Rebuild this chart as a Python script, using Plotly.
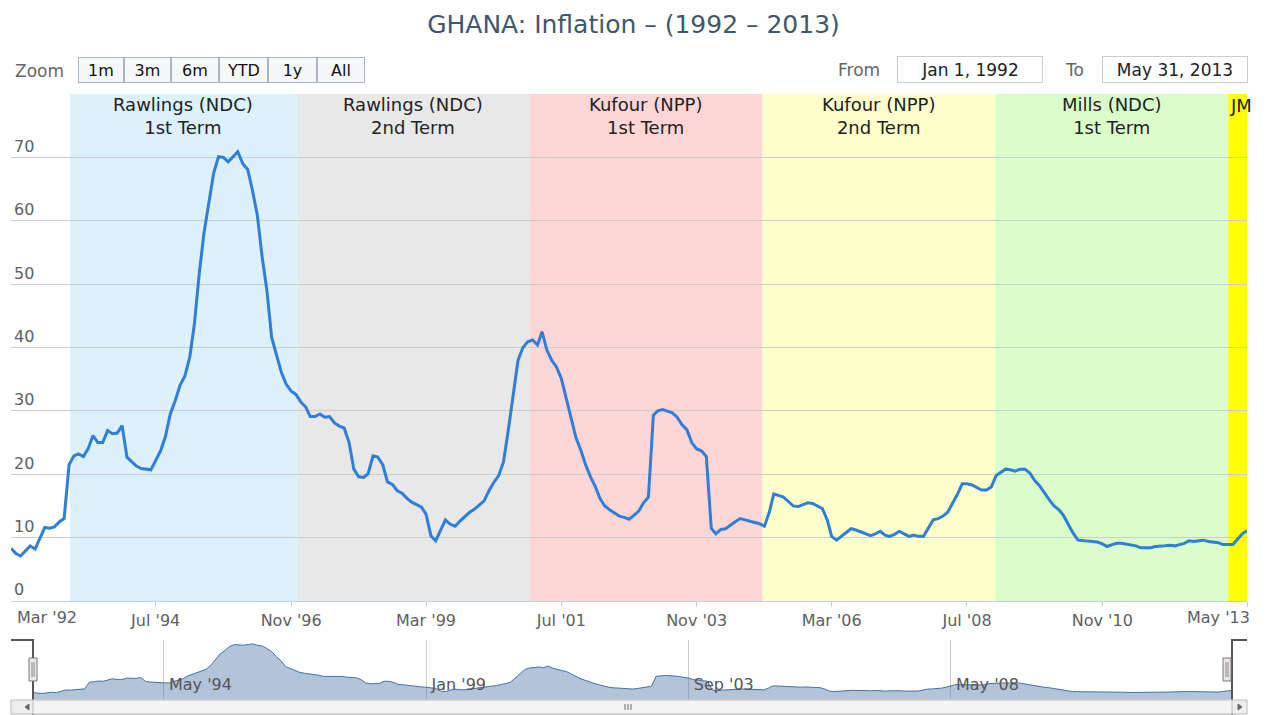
import pandas as pd
import plotly.graph_objects as go

# monthly CPI inflation (%), Jan 1992 .. May 2013
inflation = [
    8.3, 7.5, 7.1, 8.0, 8.7, 8.2, 10.0, 11.6, 11.5, 11.7, 12.5, 13.0,
    21.5, 22.9, 23.2, 22.8, 24.0, 26.1, 25.0, 25.0, 26.9, 26.4, 26.5, 27.7,
    22.7, 21.9, 21.3, 20.9, 20.8, 20.7, 22.2, 23.7, 26.0, 29.5, 31.6, 34.0,
    35.5, 38.5, 43.5, 51.5, 58.0, 62.5, 67.5, 70.1, 70.0, 69.3, 70.2, 70.9,
    69.0, 68.1, 64.9, 61.0, 54.5, 49.0, 41.6, 39.0, 36.0, 34.2, 33.1, 32.6,
    31.4, 30.6, 29.1, 29.1, 29.5, 29.0, 29.1, 28.1, 27.6, 27.3, 25.0, 20.8,
    19.6, 19.5, 20.1, 22.9, 22.7, 21.5, 18.8, 18.4, 17.4, 17.0, 16.2, 15.6,
    15.2, 14.8, 13.7, 10.3, 9.5, 11.2, 12.8, 12.1, 11.8, 12.6, 13.3, 14.0,
    14.5, 15.1, 15.8, 17.4, 18.7, 19.8, 21.9, 27.0, 33.0, 38.0, 40.0, 40.9,
    41.2, 40.4, 42.5, 39.6, 38.0, 36.9, 35.1, 32.0, 28.5, 25.8, 23.8, 21.5,
    19.6, 18.0, 16.2, 15.0, 14.4, 13.9, 13.4, 13.2, 12.9, 13.5, 14.2, 15.5,
    16.4, 29.3, 30.0, 30.2, 30.0, 29.7, 29.0, 27.8, 27.0, 25.0, 24.0, 23.7,
    22.8, 11.5, 10.6, 11.3, 11.4, 12.0, 12.5, 13.0, 12.8, 12.5, 12.4, 12.2,
    11.8, 14.0, 16.9, 16.7, 16.4, 15.7, 15.0, 14.9, 15.2, 15.5, 15.4, 15.0,
    14.6, 12.8, 10.2, 9.6, 10.2, 10.8, 11.4, 11.2, 10.9, 10.5, 10.3, 10.6,
    11.0, 10.4, 10.2, 10.5, 11.0, 10.6, 10.2, 10.4, 10.2, 10.2, 11.6, 12.8,
    13.0, 13.4, 14.0, 15.4, 16.8, 18.5, 18.5, 18.3, 17.9, 17.5, 17.5, 18.0,
    19.8, 20.4, 20.8, 20.7, 20.5, 20.8, 20.8, 20.2, 19.0, 18.2, 17.0, 16.0,
    15.0, 14.4, 13.5, 12.0, 10.7, 9.6, 9.5, 9.4, 9.4, 9.3, 9.0, 8.6,
    8.9, 9.1, 9.1, 9.0, 8.9, 8.7, 8.4, 8.35, 8.4, 8.6, 8.6, 8.7,
    8.8, 8.7, 8.9, 9.1, 9.5, 9.4, 9.5, 9.6, 9.4, 9.3, 9.2, 8.9,
    8.9, 8.9, 9.7, 10.6, 11.1,
]
dates = pd.date_range("1992-01-01", periods=len(inflation), freq="MS")

# presidential terms (plot bands)
term_names = ["Rawlings (NDC)<br>1st Term", "Rawlings (NDC)<br>2nd Term",
              "Kufour (NPP)<br>1st Term", "Kufour (NPP)<br>2nd Term",
              "Mills (NDC)<br>1st Term", "JM"]
term_start = ["1993-01-07", "1996-12-07", "2000-12-15", "2004-12-17",
              "2008-12-26", "2013-01-03"]
term_end = term_start[1:] + ["2013-05-01"]
term_colors = ["#ddf1fc", "#e8e8e8", "#ffd6d6", "#ffffcc", "#dbfdc9", "#ffff00"]

# axis ticks
x_ticks = ["1992-03-01", "1994-07-01", "1996-11-01", "1999-03-01", "2001-07-01",
           "2003-11-01", "2006-03-01", "2008-07-01", "2010-11-01", "2013-05-01"]
x_labels = ["Mar '92", "Jul '94", "Nov '96", "Mar '99", "Jul '01",
            "Nov '03", "Mar '06", "Jul '08", "Nov '10", "May '13"]
nav_ticks = ["1994-05-01", "1999-01-01", "2003-09-01", "2008-05-01"]
nav_labels = ["May '94", "Jan '99", "Sep '03", "May '08"]

zoom_buttons = ["1m", "3m", "6m", "YTD", "1y", "All"]

FONT = "DejaVu Sans"
W, H = 1267, 715
L, R, T, B = 11, 20, 94, 0
PW, PH = W - L - R, H - T - B


def px(x):
    return (x - L) / PW


def py(y):
    return (H - B - y) / PH


fig = go.Figure()

fig.add_trace(go.Scatter(
    x=dates, y=inflation, mode="lines",
    line=dict(color="#2f7ed8", width=3),
    name="Inflation", hoverinfo="x+y",
))

# navigator series
fig.add_trace(go.Scatter(
    x=dates, y=inflation, mode="lines", xaxis="x2", yaxis="y2",
    line=dict(color="#4572A7", width=1), fill="tozeroy",
    fillcolor="rgba(69,114,167,0.42)", hoverinfo="skip",
))

shapes = []
annotations = []

for name, s, e, c in zip(term_names, term_start, term_end, term_colors):
    shapes.append(dict(type="rect", xref="x", yref="y", x0=s, x1=e, y0=0, y1=80,
                       fillcolor=c, line_width=0, layer="below"))
    if name == "JM":
        annotations.append(dict(x=s, xref="x", y=py(93), yref="paper", text=name,
                                xanchor="left", yanchor="top", showarrow=False,
                                font=dict(family=FONT, size=18, color="#222")))
    else:
        mid = pd.Timestamp(s) + (pd.Timestamp(e) - pd.Timestamp(s)) / 2
        annotations.append(dict(x=mid, xref="x", y=py(92), yref="paper", text=name,
                                xanchor="center", yanchor="top", showarrow=False,
                                font=dict(family=FONT, size=18, color="#222")))

# first / last x labels are pushed inside the plot, like highstock does
for cx, lab in [(47, x_labels[0]), (1218, x_labels[-1])]:
    annotations.append(dict(x=px(cx), xref="paper", y=py(617), yref="paper", text=lab,
                            xanchor="center", yanchor="middle", showarrow=False,
                            font=dict(family=FONT, size=16, color="#606060")))

# range selector look-alike
annotations.append(dict(x=px(13), xref="paper", y=py(71), yref="paper", text="Zoom",
                        xanchor="left", yanchor="middle", showarrow=False,
                        font=dict(family=FONT, size=17, color="#666")))
edges = [78, 124, 171, 219, 268, 317, 365]
for i, lab in enumerate(zoom_buttons):
    annotations.append(dict(
        x=px(edges[i]), xref="paper", y=py(57), yref="paper", text=lab,
        xanchor="left", yanchor="top", showarrow=False,
        width=edges[i + 1] - edges[i] - 2, height=24, borderpad=0,
        bgcolor="#f6f7f9", bordercolor="#aab4c2", borderwidth=1,
        font=dict(family=FONT, size=16, color="#111")))

for cx, lab in [(859, "From"), (1074, "To")]:
    annotations.append(dict(x=px(cx), xref="paper", y=py(70), yref="paper", text=lab,
                            xanchor="center", yanchor="middle", showarrow=False,
                            font=dict(family=FONT, size=17, color="#666")))
for x0, x1, txt in [(897, 1043, "Jan 1, 1992"), (1102, 1248, "May 31, 2013")]:
    annotations.append(dict(
        x=px(x0), xref="paper", y=py(56), yref="paper", text=txt,
        xanchor="left", yanchor="top", showarrow=False,
        width=x1 - x0 - 2, height=25, borderpad=0,
        bgcolor="white", bordercolor="#cccccc", borderwidth=1,
        font=dict(family=FONT, size=17, color="#222")))


# navigator outline, handles and scrollbar
def pth(points):
    return "M " + " L ".join(f"{px(a)},{py(b)}" for a, b in points)


shapes.append(dict(type="path", xref="paper", yref="paper",
                   path=pth([(11, 640), (33, 640), (33, 715)]),
                   line=dict(color="#555", width=2)))
shapes.append(dict(type="path", xref="paper", yref="paper",
                   path=pth([(1232, 715), (1232, 640), (1247, 640)]),
                   line=dict(color="#555", width=2)))
shapes.append(dict(type="rect", xref="paper", yref="paper",
                   x0=px(11), x1=px(1247), y0=py(714), y1=py(700),
                   fillcolor="#eeeeee", line=dict(color="#bbbbbb", width=1)))
shapes.append(dict(type="rect", xref="paper", yref="paper",
                   x0=px(33), x1=px(1232), y0=py(714), y1=py(700),
                   fillcolor="#f4f4f4", line=dict(color="#bbbbbb", width=1)))
for hx in (33, 1227):
    shapes.append(dict(type="rect", xref="paper", yref="paper",
                       x0=px(hx - 4), x1=px(hx + 4), y0=py(681), y1=py(658),
                       fillcolor="#ebe7e8", line=dict(color="#777", width=1)))
    for dx in (-1, 1):
        shapes.append(dict(type="line", xref="paper", yref="paper",
                           x0=px(hx + dx), x1=px(hx + dx), y0=py(677), y1=py(662),
                           line=dict(color="#888", width=1)))
shapes.append(dict(type="path", xref="paper", yref="paper",
                   path=pth([(29, 704), (29, 710), (25, 707)]) + " Z",
                   fillcolor="#666", line=dict(color="#666", width=1)))
shapes.append(dict(type="path", xref="paper", yref="paper",
                   path=pth([(1238, 704), (1238, 710), (1242, 707)]) + " Z",
                   fillcolor="#666", line=dict(color="#666", width=1)))
for gx in (625, 628, 631):
    shapes.append(dict(type="line", xref="paper", yref="paper",
                       x0=px(gx), x1=px(gx), y0=py(710), y1=py(704),
                       line=dict(color="#666", width=1)))

fig.update_layout(
    width=W, height=H,
    margin=dict(l=L, r=R, t=T, b=B),
    paper_bgcolor="white", plot_bgcolor="white",
    showlegend=False,
    title=dict(text="GHANA: Inflation \u2013 (1992 \u2013 2013)", x=0.5, xref="container",
               y=1 - 24 / H, yref="container", xanchor="center", yanchor="middle",
               font=dict(family=FONT, size=25, color="#3E576F")),
    font=dict(family=FONT),
    xaxis=dict(
        range=[dates[0], dates[-1]], domain=[0, 1],
        tickvals=x_ticks, ticktext=[""] + x_labels[1:-1] + [""],
        showgrid=False, showline=True, linecolor="#C0D0E0", linewidth=1,
        ticks="outside", ticklen=5, tickcolor="#C0D0E0",
        tickfont=dict(family=FONT, size=16, color="#606060"),
        anchor="y",
    ),
    yaxis=dict(
        range=[0, 80], domain=[py(601), 1],
        tickvals=list(range(0, 90, 10)),
        ticktext=[str(v) for v in range(0, 80, 10)] + [""],
        ticklabelposition="inside top",
        gridcolor="#cccccc", gridwidth=1, zeroline=False, showline=False,
        tickfont=dict(family=FONT, size=16, color="#606060"),
        anchor="x",
    ),
    xaxis2=dict(
        range=[dates[0], dates[-1]], domain=[px(33), px(1232)],
        tickvals=nav_ticks, ticktext=nav_labels,
        ticklabelposition="inside right", ticklabelshift=5,
        showgrid=True, gridcolor="#cccccc", showline=False, ticks="",
        tickfont=dict(family=FONT, size=16, color="#555"),
        anchor="y2",
    ),
    yaxis2=dict(
        range=[0, 76], domain=[py(699), py(640)],
        showgrid=False, showticklabels=False, zeroline=False, ticks="",
        anchor="x2",
    ),
    shapes=shapes,
    annotations=annotations,
)

# the page body has an 8px default margin; drop it so the figure fills the window
fig.write_html("out.html", config={"displayModeBar": False},
               post_script="document.body.style.margin = '0';")
